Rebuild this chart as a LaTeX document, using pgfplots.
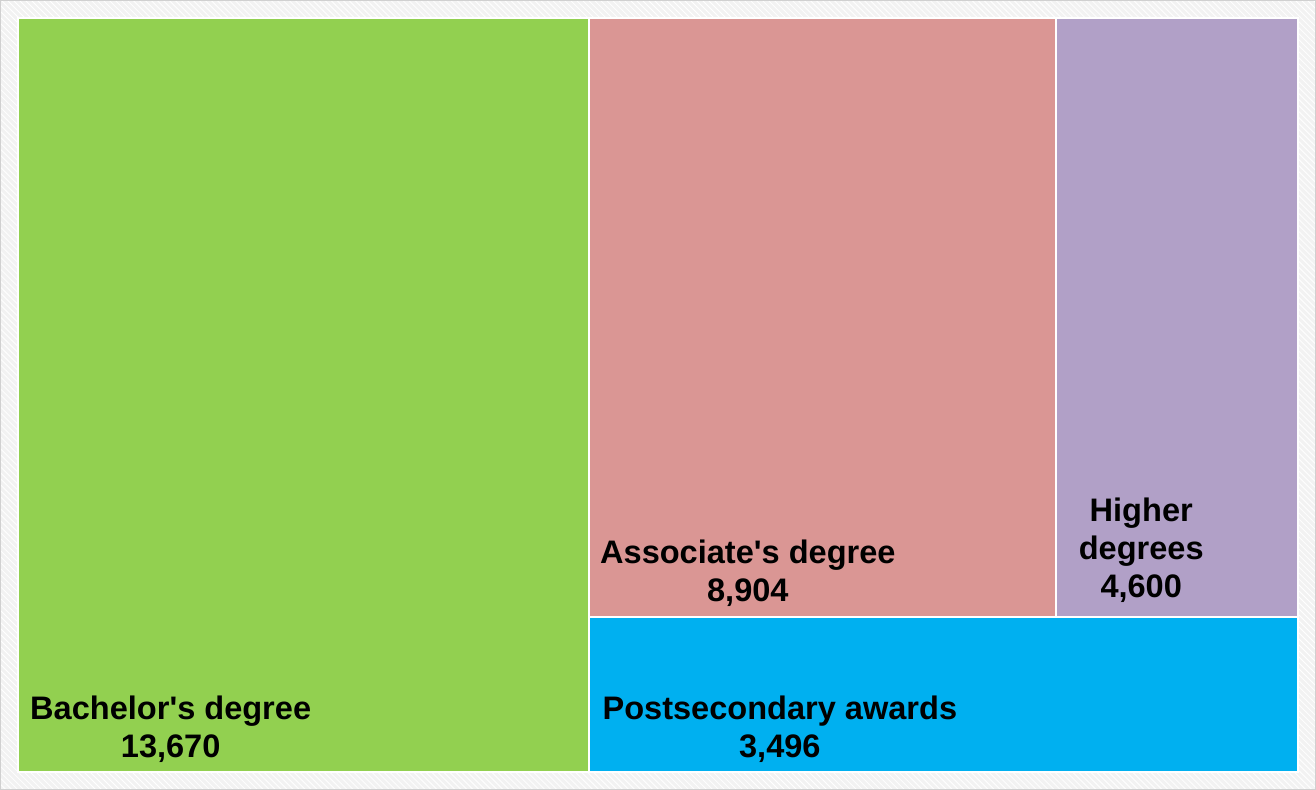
\documentclass[border=0pt]{standalone}
\usepackage{pgfplots}
\pgfplotsset{compat=1.18}
\usepackage{fontspec}
\setmainfont{Liberation Sans}
\usetikzlibrary{patterns}
\definecolor{cBach}{HTML}{92D050}
\definecolor{cAssoc}{HTML}{DA9694}
\definecolor{cHigh}{HTML}{B1A0C7}
\definecolor{cPost}{HTML}{00B0F0}
\definecolor{cBg}{HTML}{F2F2F2}
\definecolor{cFrame}{HTML}{D0D0D0}
% Values: Bachelor's 13670, Associate's 8904, Higher 4600, Postsecondary 3496 (total 30670)
% Rectangle x-splits: 13670/30670 = 0.44571 ; y-split of right part: 3496/17000 = 0.20565
% Associate's width within right part: 8904/13504 of 0.55429 -> ends at 0.81119
\begin{document}
\begin{tikzpicture}
\fill[cBg] (-9pt,-9pt) rectangle (650pt,386.5pt);
\fill[pattern=north west lines, pattern color=white] (-9pt,-9pt) rectangle (650pt,386.5pt);
\draw[cFrame, line width=0.6pt] (-8.7pt,-8.7pt) rectangle (649.7pt,386.2pt);
\begin{axis}[
  at={(0,0)}, anchor=south west,
  scale only axis, width=641pt, height=377.5pt,
  xmin=0, xmax=1, ymin=0, ymax=1,
  hide axis, clip=false,
  every axis plot/.append style={draw=white, line width=1pt},
]
\addplot[fill=cBach] coordinates {(0,0) (0.44571,0) (0.44571,1) (0,1)} -- cycle;
\addplot[fill=cAssoc] coordinates {(0.44571,0.20565) (0.81119,0.20565) (0.81119,1) (0.44571,1)} -- cycle;
\addplot[fill=cHigh] coordinates {(0.81119,0.20565) (1,0.20565) (1,1) (0.81119,1)} -- cycle;
\addplot[fill=cPost] coordinates {(0.44571,0) (1,0) (1,0.20565) (0.44571,0.20565)} -- cycle;
\begin{scope}[every node/.style={align=center, font=\bfseries\fontsize{16.3}{19}\selectfont, text=black}]
\node at (axis cs:0.1193,0.0570) {Bachelor\textquotesingle s degree\\13,670};
\node at (axis cs:0.5702,0.2640) {Associate\textquotesingle s degree\\8,904};
\node at (axis cs:0.8775,0.2940) {Higher\\degrees\\4,600};
\node at (axis cs:0.5952,0.0570) {Postsecondary awards\\3,496};
\end{scope}
\end{axis}
\end{tikzpicture}
\end{document}
